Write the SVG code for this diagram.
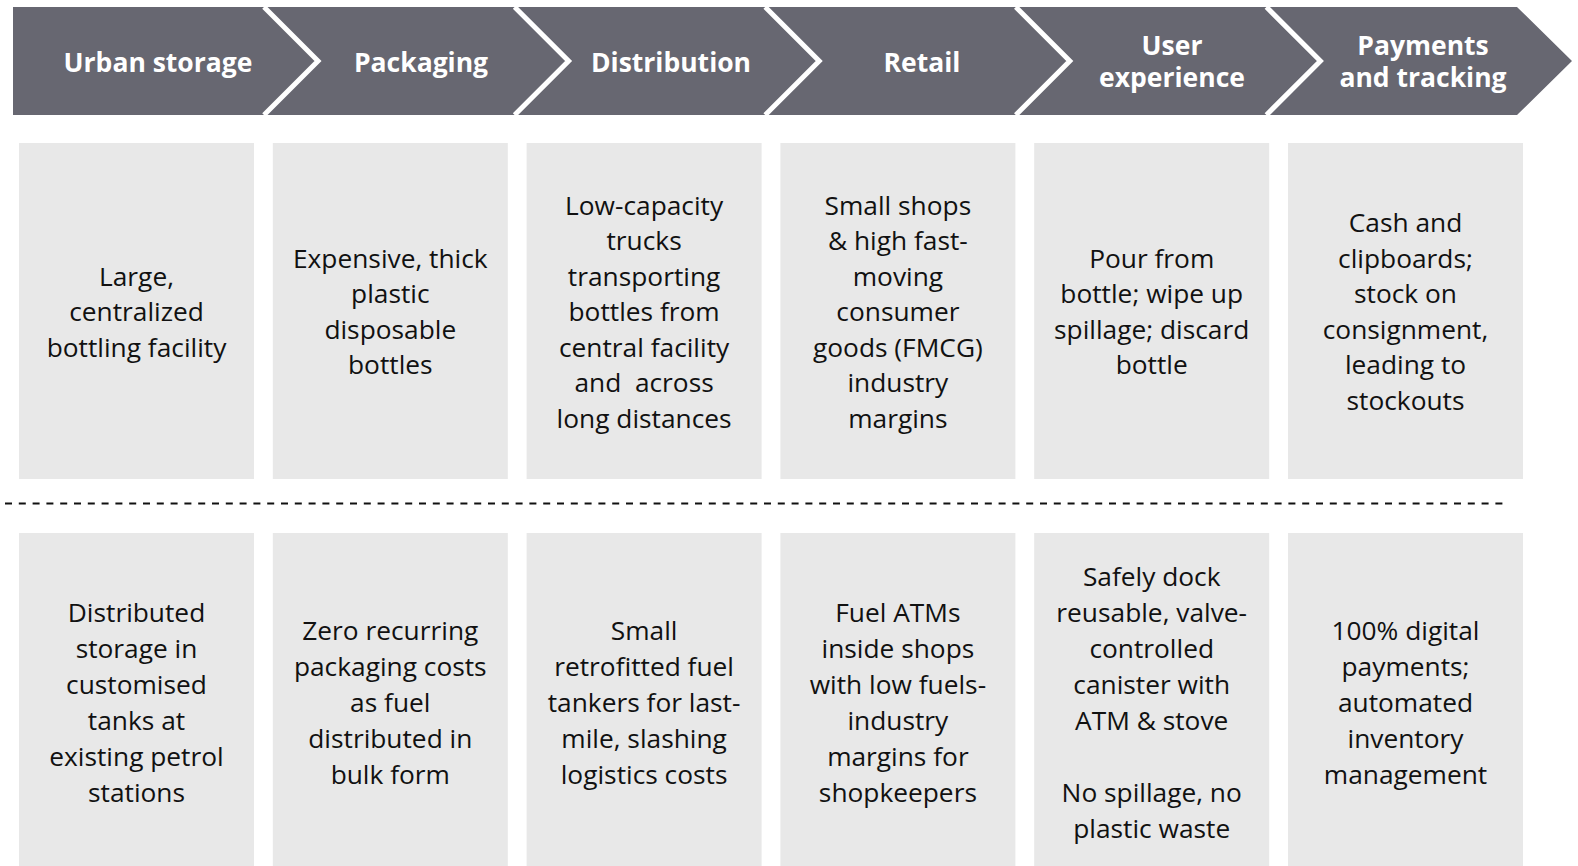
<svg xmlns="http://www.w3.org/2000/svg" width="1578" height="866" viewBox="0 0 1578 866">
<style>
.chev{fill:#676771}
.sep{fill:none;stroke:#ffffff;stroke-width:5;stroke-linejoin:miter}
.hd{font-family:"Open Sans","Liberation Sans",sans-serif;font-weight:bold;font-size:26.5px;fill:#ffffff;text-anchor:middle}
.box{fill:#e8e8e8}
.tx{font-family:"Open Sans","Liberation Sans",sans-serif;font-size:26.3px;fill:#111111;text-anchor:middle}
.dash{stroke:#111111;stroke-width:2;stroke-dasharray:7 6.8;fill:none}
</style>
<rect width="1578" height="866" fill="#ffffff"/>
<g id="stage-urban-storage">
<polygon class="chev" points="13,7 264,7 318,61 264,115 13,115"/>
<text class="hd" x="158" y="71.5">Urban storage</text>
</g>
<g id="stage-packaging">
<polygon class="chev" points="264,7 514.6,7 568.6,61 514.6,115 264,115 318,61"/>
<polyline class="sep" points="264,7 318,61 264,115"/>
<text class="hd" x="421" y="71.5">Packaging</text>
</g>
<g id="stage-distribution">
<polygon class="chev" points="514.6,7 765.2,7 819.2,61 765.2,115 514.6,115 568.6,61"/>
<polyline class="sep" points="514.6,7 568.6,61 514.6,115"/>
<text class="hd" x="671" y="71.5">Distribution</text>
</g>
<g id="stage-retail">
<polygon class="chev" points="765.2,7 1015.8,7 1069.8,61 1015.8,115 765.2,115 819.2,61"/>
<polyline class="sep" points="765.2,7 819.2,61 765.2,115"/>
<text class="hd" x="922" y="71.5">Retail</text>
</g>
<g id="stage-user-experience">
<polygon class="chev" points="1015.8,7 1266.4,7 1320.4,61 1266.4,115 1015.8,115 1069.8,61"/>
<polyline class="sep" points="1015.8,7 1069.8,61 1015.8,115"/>
<text class="hd" x="1172" y="54.5">User</text>
<text class="hd" x="1172" y="86.5">experience</text>
</g>
<g id="stage-payments">
<polygon class="chev" points="1266.4,7 1517,7 1572,61 1517,115 1266.4,115 1320.4,61"/>
<polyline class="sep" points="1266.4,7 1320.4,61 1266.4,115"/>
<text class="hd" x="1423" y="54.5">Payments</text>
<text class="hd" x="1423" y="86.5">and tracking</text>
</g>
<g id="connectors">
<line class="dash" x1="5" y1="503.5" x2="1508" y2="503.5"/>
</g>
<g id="current-urban-storage">
<rect class="box" x="19" y="143" width="235" height="336"/>
<text class="tx" x="136.5" y="285.5">Large,</text>
<text class="tx" x="136.5" y="321">centralized</text>
<text class="tx" x="136.5" y="356.5">bottling facility</text>
</g>
<g id="current-packaging">
<rect class="box" x="272.8" y="143" width="235" height="336"/>
<text class="tx" x="390.3" y="267.75">Expensive, thick</text>
<text class="tx" x="390.3" y="303.25">plastic</text>
<text class="tx" x="390.3" y="338.75">disposable</text>
<text class="tx" x="390.3" y="374.25">bottles</text>
</g>
<g id="current-distribution">
<rect class="box" x="526.6" y="143" width="235" height="336"/>
<text class="tx" x="644.1" y="214.5">Low-capacity</text>
<text class="tx" x="644.1" y="250">trucks</text>
<text class="tx" x="644.1" y="285.5">transporting</text>
<text class="tx" x="644.1" y="321">bottles from</text>
<text class="tx" x="644.1" y="356.5">central facility</text>
<text class="tx" x="644.1" y="392">and&#160; across</text>
<text class="tx" x="644.1" y="427.5">long distances</text>
</g>
<g id="current-retail">
<rect class="box" x="780.4" y="143" width="235" height="336"/>
<text class="tx" x="897.9" y="214.5">Small shops</text>
<text class="tx" x="897.9" y="250">&amp; high fast-</text>
<text class="tx" x="897.9" y="285.5">moving</text>
<text class="tx" x="897.9" y="321">consumer</text>
<text class="tx" x="897.9" y="356.5">goods (FMCG)</text>
<text class="tx" x="897.9" y="392">industry</text>
<text class="tx" x="897.9" y="427.5">margins</text>
</g>
<g id="current-user-experience">
<rect class="box" x="1034.2" y="143" width="235" height="336"/>
<text class="tx" x="1151.7" y="267.75">Pour from</text>
<text class="tx" x="1151.7" y="303.25">bottle; wipe up</text>
<text class="tx" x="1151.7" y="338.75">spillage; discard</text>
<text class="tx" x="1151.7" y="374.25">bottle</text>
</g>
<g id="current-payments">
<rect class="box" x="1288" y="143" width="235" height="336"/>
<text class="tx" x="1405.5" y="232.25">Cash and</text>
<text class="tx" x="1405.5" y="267.75">clipboards;</text>
<text class="tx" x="1405.5" y="303.25">stock on</text>
<text class="tx" x="1405.5" y="338.75">consignment,</text>
<text class="tx" x="1405.5" y="374.25">leading to</text>
<text class="tx" x="1405.5" y="409.75">stockouts</text>
</g>
<g id="new-urban-storage">
<rect class="box" x="19" y="533" width="235" height="333"/>
<text class="tx" x="136.5" y="621.5">Distributed</text>
<text class="tx" x="136.5" y="657.5">storage in</text>
<text class="tx" x="136.5" y="693.5">customised</text>
<text class="tx" x="136.5" y="729.5">tanks at</text>
<text class="tx" x="136.5" y="765.5">existing petrol</text>
<text class="tx" x="136.5" y="801.5">stations</text>
</g>
<g id="new-packaging">
<rect class="box" x="272.8" y="533" width="235" height="333"/>
<text class="tx" x="390.3" y="639.5">Zero recurring</text>
<text class="tx" x="390.3" y="675.5">packaging costs</text>
<text class="tx" x="390.3" y="711.5">as fuel</text>
<text class="tx" x="390.3" y="747.5">distributed in</text>
<text class="tx" x="390.3" y="783.5">bulk form</text>
</g>
<g id="new-distribution">
<rect class="box" x="526.6" y="533" width="235" height="333"/>
<text class="tx" x="644.1" y="639.5">Small</text>
<text class="tx" x="644.1" y="675.5">retrofitted fuel</text>
<text class="tx" x="644.1" y="711.5">tankers for last-</text>
<text class="tx" x="644.1" y="747.5">mile, slashing</text>
<text class="tx" x="644.1" y="783.5">logistics costs</text>
</g>
<g id="new-retail">
<rect class="box" x="780.4" y="533" width="235" height="333"/>
<text class="tx" x="897.9" y="621.5">Fuel ATMs</text>
<text class="tx" x="897.9" y="657.5">inside shops</text>
<text class="tx" x="897.9" y="693.5">with low fuels-</text>
<text class="tx" x="897.9" y="729.5">industry</text>
<text class="tx" x="897.9" y="765.5">margins for</text>
<text class="tx" x="897.9" y="801.5">shopkeepers</text>
</g>
<g id="new-user-experience">
<rect class="box" x="1034.2" y="533" width="235" height="333"/>
<text class="tx" x="1151.7" y="585.5">Safely dock</text>
<text class="tx" x="1151.7" y="621.5">reusable, valve-</text>
<text class="tx" x="1151.7" y="657.5">controlled</text>
<text class="tx" x="1151.7" y="693.5">canister with</text>
<text class="tx" x="1151.7" y="729.5">ATM &amp; stove</text>
<text class="tx" x="1151.7" y="801.5">No spillage, no</text>
<text class="tx" x="1151.7" y="837.5">plastic waste</text>
</g>
<g id="new-payments">
<rect class="box" x="1288" y="533" width="235" height="333"/>
<text class="tx" x="1405.5" y="639.5">100% digital</text>
<text class="tx" x="1405.5" y="675.5">payments;</text>
<text class="tx" x="1405.5" y="711.5">automated</text>
<text class="tx" x="1405.5" y="747.5">inventory</text>
<text class="tx" x="1405.5" y="783.5">management</text>
</g>
</svg>
